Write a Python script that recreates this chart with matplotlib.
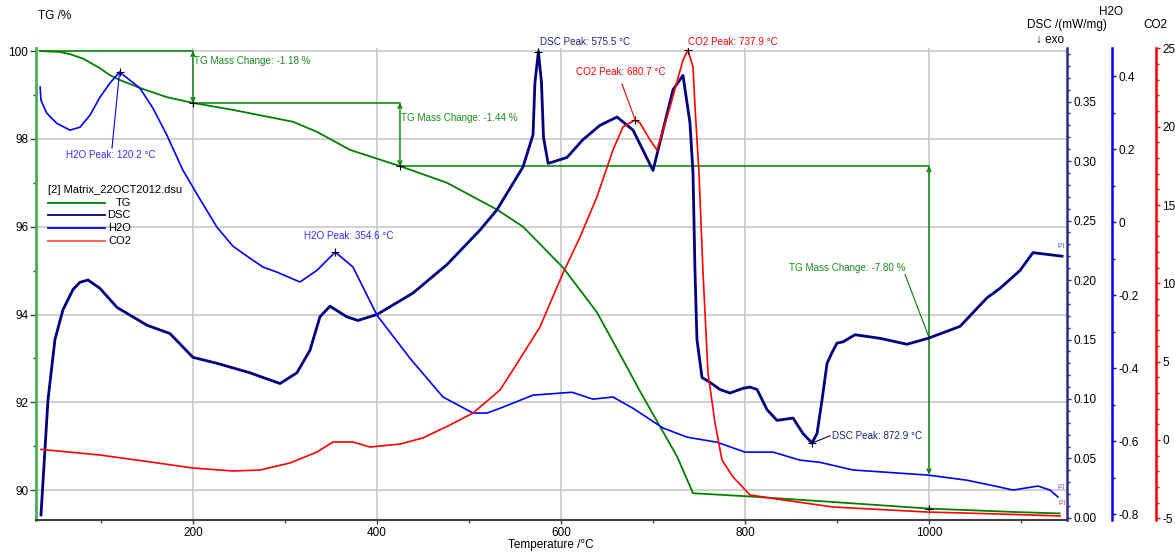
import matplotlib
matplotlib.use("Agg")
import matplotlib.pyplot as plt
from matplotlib.ticker import MultipleLocator, FuncFormatter

plt.rcParams["font.family"] = ["Liberation Sans", "DejaVu Sans"]
plt.rcParams["axes.unicode_minus"] = False

# ── data (temperature in °C) ──
tg_T = [33.7, 55.4, 66.3, 80.4, 98.9, 109.8, 120.7, 142.4, 171.7, 200, 243.5, 308.7, 334.8,
        370.7, 425, 476.1, 530.4, 558.7, 602.2, 639.1, 671.8, 685.9, 726.1, 743.5, 802.2,
        895.7, 1000, 1096, 1142]
tg_val = [100.0, 99.98, 99.93, 99.83, 99.61, 99.45, 99.34, 99.16, 98.95, 98.82, 98.66, 98.39,
          98.16, 97.75, 97.38, 97.0, 96.39, 96.0, 95.07, 94.05, 92.80, 92.25, 90.77, 89.93,
          89.86, 89.73, 89.58, 89.50, 89.47]

dsc_T = [34.8, 42.4, 50.0, 58.7, 69.6, 77.0, 85.9, 98.9, 117.4, 150, 175, 200, 226.1, 262,
         294.6, 313, 327.2, 338, 348.9, 367.4, 379.4, 400, 439.1, 476.1, 512, 530.4, 558.7,
         569.6, 571.7, 575.5, 578.8, 581, 586, 606.5, 623.9, 642.4, 660.9, 678.3, 689.2, 700,
         710.9, 721.8, 732.6, 740.2, 743.5, 745.7, 747.8, 753.3, 762, 772.8, 783.7, 797.8,
         805.4, 813.1, 824, 834.8, 852.2, 863, 872.9, 878.3, 883.7, 889.2, 894.6, 900, 906.5,
         919.6, 946.8, 976.1, 999, 1033.7, 1063, 1077.2, 1098.9, 1113, 1144.6]
dsc_val = [0.0025, 0.099, 0.150, 0.175, 0.192, 0.198, 0.200, 0.193, 0.177, 0.162, 0.155,
           0.135, 0.130, 0.122, 0.113, 0.122, 0.141, 0.169, 0.178, 0.169, 0.166, 0.171, 0.189,
           0.213, 0.242, 0.259, 0.295, 0.322, 0.366, 0.392, 0.366, 0.320, 0.298, 0.303, 0.318,
           0.330, 0.337, 0.326, 0.309, 0.292, 0.326, 0.360, 0.372, 0.332, 0.290, 0.206, 0.150,
           0.118, 0.114, 0.108, 0.105, 0.109, 0.110, 0.108, 0.091, 0.082, 0.084, 0.071, 0.063,
           0.071, 0.099, 0.130, 0.139, 0.147, 0.148, 0.154, 0.151, 0.146, 0.151, 0.161, 0.185,
           0.193, 0.208, 0.223, 0.220]

h2o_T = [33.9, 34.8, 40.9, 51.8, 66.3, 77.2, 88.1, 98.9, 109.8, 120.2, 142.4, 156.5, 171.7,
         189.1, 207.6, 226.1, 243.5, 262, 276.1, 291.3, 316.3, 334.8, 354.6, 373.9, 400,
         435.9, 471.7, 504.4, 519.6, 533.7, 569.6, 612, 634.8, 656.5, 678.3, 710.9, 737,
         769.6, 800, 830.4, 859.8, 881.5, 917.4, 999, 1041.3, 1077.2, 1091.3, 1118.5, 1131.5,
         1140.2]
h2o_val = [0.370, 0.334, 0.299, 0.271, 0.252, 0.260, 0.293, 0.342, 0.381, 0.411, 0.367, 0.312,
           0.238, 0.142, 0.063, -0.014, -0.066, -0.099, -0.123, -0.137, -0.164, -0.132, -0.082,
           -0.123, -0.255, -0.373, -0.479, -0.523, -0.523, -0.510, -0.474, -0.466, -0.485,
           -0.479, -0.510, -0.564, -0.589, -0.603, -0.630, -0.630, -0.652, -0.658, -0.679,
           -0.693, -0.707, -0.726, -0.734, -0.723, -0.734, -0.753]

co2_T = [34.8, 98.9, 153.3, 200, 243.5, 272.8, 305.4, 334.8, 352.2, 373.9, 392.4, 425, 450,
         479.4, 504.4, 533.7, 547.8, 577.2, 602.2, 620.7, 639.1, 656.5, 667.4, 680.7, 685.9,
         696.8, 704.4, 718.5, 732.6, 737.9, 743.5, 745.7, 750, 754.4, 759.8, 767.4, 775, 787,
         805.4, 841.3, 895.7, 997.9, 1077.2, 1142.4]
co2_val = [-0.6, -0.96, -1.40, -1.79, -1.98, -1.92, -1.47, -0.77, -0.13, -0.13, -0.45, -0.26,
           0.13, 0.96, 1.72, 3.19, 4.47, 7.22, 10.66, 12.96, 15.52, 18.52, 19.99, 20.43, 20.24,
           19.16, 18.52, 21.26, 24.26, 24.9, 23.82, 21.26, 17.05, 10.66, 4.28, 1.09, -1.28,
           -2.36, -3.51, -3.83, -4.28, -4.60, -4.73, -4.85]

# mass change steps: start + evaluation points
tg_step_T = [33.7, 200, 425, 1000]
tg_step_val = [100.0, 98.82, 97.38, 89.58]
tg_changes = [-1.18, -1.44, -7.80]

h2o_peak_T = [120.2, 354.6]
h2o_peak_val = [0.411, -0.082]
dsc_peak_T = [575.5, 872.9]
dsc_peak_val = [0.392, 0.063]
co2_peak_T = [680.7, 737.9]
co2_peak_val = [20.43, 24.9]

# ── colors ──
c_tg = "#008000"
c_dsc = "#000080"
c_h2o = "#0000ff"
c_co2 = "#ff0000"
grid_c = "#c8c8c8"

W, H = 1175, 552
fig = plt.figure(figsize=(W / 100, H / 100), dpi=100)
ax = fig.add_axes([36 / W, 32 / H, 1031 / W, 472 / H])
ax.set_xlim(29.4, 1150)
ax.set_ylim(89.32, 100.07)

ax.xaxis.set_major_locator(MultipleLocator(200))
ax.xaxis.set_minor_locator(MultipleLocator(100))
ax.yaxis.set_major_locator(MultipleLocator(2))
ax.yaxis.set_minor_locator(MultipleLocator(1))
ax.grid(True, which="major", color=grid_c, lw=1.2)
ax.set_axisbelow(True)
for s in ("top", "right"):
    ax.spines[s].set_visible(False)
ax.spines["left"].set_color("#4caf50")
ax.spines["left"].set_linewidth(2)
ax.spines["bottom"].set_color("#404040")
ax.spines["bottom"].set_linewidth(1.5)
ax.tick_params(axis="x", which="major", length=3, width=1, color="#404040", labelsize=8.5, pad=2)
ax.tick_params(axis="x", which="minor", length=2.5, width=1, color="#404040")
ax.tick_params(axis="y", which="major", length=4, width=1, color="#404040", labelsize=8.5, pad=1.5)
ax.tick_params(axis="y", which="minor", length=2.5, width=1, color="#404040")
ax.xaxis.set_major_formatter(FuncFormatter(lambda v, p: "" if v < 100 or v > 1100 else f"{v:g}"))

def twin(pos, color, lo, hi, major, minor, fmt):
    t = ax.twinx()
    t.set_ylim(lo, hi)
    for s in ("left", "top", "bottom"):
        t.spines[s].set_visible(False)
    t.spines["right"].set_position(("axes", pos))
    t.spines["right"].set_color(color)
    t.spines["right"].set_linewidth(1.8)
    t.yaxis.set_major_locator(MultipleLocator(major))
    t.yaxis.set_minor_locator(MultipleLocator(minor))
    t.yaxis.set_major_formatter(FuncFormatter(fmt))
    t.tick_params(which="major", length=3, width=1, color=color, labelsize=8.5,
                  labelcolor="black", pad=1.5)
    t.tick_params(which="minor", length=2, width=1, color=color)
    return t

ax_dsc = twin(1.0, "#2a2a90", -0.0017, 0.395, 0.05, 0.01, lambda v, p: f"{v:.2f}" if v > -0.001 else "")
ax_h2o = twin(1.0436, c_h2o, -0.816, 0.477, 0.2, 0.1, lambda v, p: "0" if abs(v) < 1e-9 else f"{v:.1f}")
ax_co2 = twin(1.0863, c_co2, -5.11, 25.03, 5, 1, lambda v, p: f"{v:.0f}")

# ── curves ──
ax.plot(tg_T, tg_val, color=c_tg, lw=1.3)
ax_dsc.plot(dsc_T, dsc_val, color=c_dsc, lw=2)
ax_h2o.plot(h2o_T, h2o_val, color=c_h2o, lw=1.2)
ax_co2.plot(co2_T, co2_val, color=c_co2, lw=1.2)

# ── TG mass change evaluation ──
ann_fs = 7.1
for i in range(3):
    x0, x1 = tg_step_T[i], tg_step_T[i + 1]
    ax.plot([x0, x1], [tg_step_val[i], tg_step_val[i]], color=c_tg, lw=1.1)
arrow = dict(arrowstyle="<->", color=c_tg, lw=1, shrinkA=0, shrinkB=0, mutation_scale=7)
ax.annotate("", xy=(200, 98.82), xytext=(200, 100.0), arrowprops=arrow)
ax.annotate("", xy=(425, 97.38), xytext=(425, 98.82), arrowprops=arrow)
ax.annotate("", xy=(1000, 90.36), xytext=(1000, 97.38), arrowprops=arrow)
ax.plot(tg_step_T[1:], tg_step_val[1:], "+", color="black", ms=6, mew=0.8)
ax.text(201, 99.77, f"TG Mass Change: {tg_changes[0]:.2f} %", color="#1a8c1a", fontsize=ann_fs,
        ha="left", va="center")
ax.text(426, 98.48, f"TG Mass Change: {tg_changes[1]:.2f} %", color="#1a8c1a", fontsize=ann_fs,
        ha="left", va="center")
ax.text(974, 95.07, f"TG Mass Change: {tg_changes[2]:.2f} %", color="#1a8c1a", fontsize=ann_fs,
        ha="right", va="center")
ax.plot([974, 1000], [94.91, 93.48], color=c_tg, lw=0.8)

# ── peak labels ──
ax_h2o.plot(h2o_peak_T, h2o_peak_val, "+", color="black", ms=6, mew=0.8)
ax_h2o.plot([112.0, h2o_peak_T[0]], [0.203, h2o_peak_val[0]], color=c_h2o, lw=0.8)
ax_h2o.text(110.9, 0.184, f"H2O Peak: {h2o_peak_T[0]:.1f} °C", color="#3030ff", fontsize=ann_fs,
            ha="center", va="center")
ax_h2o.text(369, -0.038, f"H2O Peak: {h2o_peak_T[1]:.1f} °C", color="#3030ff", fontsize=ann_fs,
            ha="center", va="center")

ax_dsc.plot(dsc_peak_T, dsc_peak_val, "+", color="black", ms=6, mew=0.8)
ax_dsc.text(577.2, 0.400, f"DSC Peak: {dsc_peak_T[0]:.1f} °C", color="#202080", fontsize=ann_fs,
            ha="left", va="center")
ax_dsc.plot([892.4, dsc_peak_T[1]], [0.069, dsc_peak_val[1]], color=c_dsc, lw=0.8)
ax_dsc.text(894.6, 0.069, f"DSC Peak: {dsc_peak_T[1]:.1f} °C", color="#202080", fontsize=ann_fs,
            ha="left", va="center")

ax_co2.plot(co2_peak_T, co2_peak_val, "+", color="black", ms=6, mew=0.8)
ax_co2.plot([666.3, co2_peak_T[0]], [22.73, co2_peak_val[0]], color=c_co2, lw=0.8)
ax_co2.text(665.2, 23.5, f"CO2 Peak: {co2_peak_T[0]:.1f} °C", color=c_co2, fontsize=ann_fs,
            ha="center", va="center")
ax_co2.text(738, 25.4, f"CO2 Peak: {co2_peak_T[1]:.1f} °C", color=c_co2, fontsize=ann_fs,
            ha="left", va="center")

# small segment tags at the curve ends
ax_dsc.text(1143.5, 0.229, "[2]", color="#5050c0", fontsize=4.5, ha="center", va="center")
ax_h2o.text(1143.5, -0.723, "[2]", color="#5050ff", fontsize=4.5, ha="center", va="center")
ax_co2.text(1145, -4.0, "[2]", color="#d04040", fontsize=4.5, ha="center", va="center")

# ── legend ──
ax.text(0.0116, 0.699, "[2] Matrix_22OCT2012.dsu", transform=ax.transAxes, fontsize=8,
        ha="left", va="center")
legend_items = [("TG", c_tg), ("DSC", c_dsc), ("H2O", c_h2o), ("CO2", "#ff5050")]
legend_y = [0.6716, 0.646, 0.619, 0.591]
for (name, col), yy in zip(legend_items, legend_y):
    ax.plot([0.0116, 0.0669], [yy, yy], color=col, lw=1.3, transform=ax.transAxes)
    ax.text(0.0921, yy, name, transform=ax.transAxes, fontsize=8, ha="right", va="center")

# ── axis titles ──
fig.text(38 / W, 1 - 16 / H, "TG /%", fontsize=8.5, ha="left", va="center")
fig.text(508 / W, 1 - 545 / H, "Temperature /°C", fontsize=8.5, ha="left", va="center")
fig.text(1067 / W, 1 - 25 / H, "DSC /(mW/mg)", fontsize=8.5, ha="center", va="center")
fig.text(1036 / W, 1 - 40 / H, "↓ exo", fontsize=8.5, ha="left", va="center")
fig.text(1111 / W, 1 - 12 / H, "H2O", fontsize=8.5, ha="center", va="center")
fig.text(1155 / W, 1 - 25 / H, "CO2", fontsize=8.5, ha="center", va="center")

fig.savefig("out.png", dpi=100)
